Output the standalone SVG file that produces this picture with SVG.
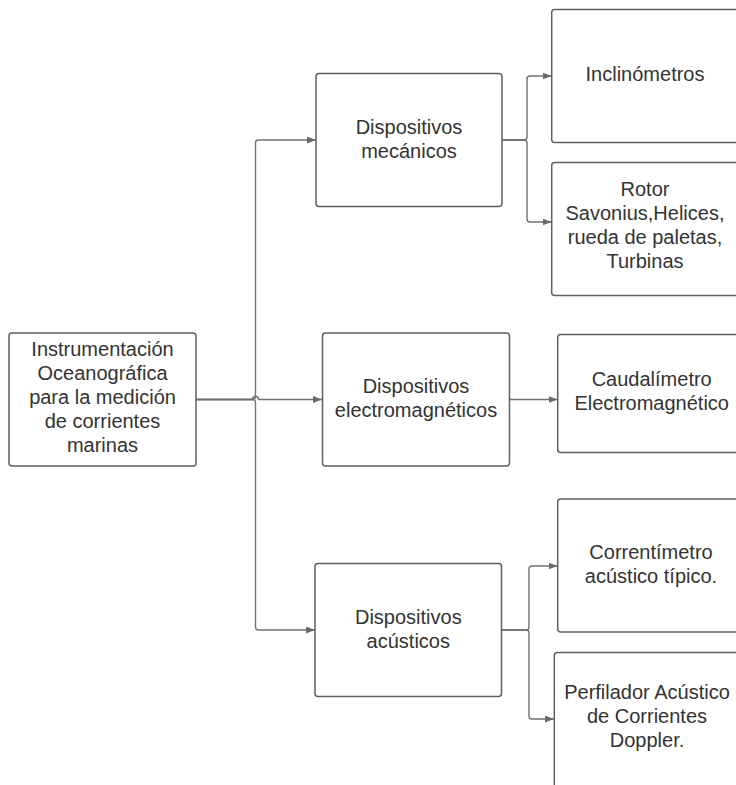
<svg xmlns="http://www.w3.org/2000/svg" width="736" height="785" viewBox="0 0 736 785">
<style>
.box{fill:#ffffff;stroke:#5f5f5f;stroke-width:1.5}
.lbl{font-family:"Liberation Sans",Arial,sans-serif;font-size:20px;fill:#333333;text-anchor:middle}
.con{fill:none;stroke:#707070;stroke-width:1.4}
</style>
<defs>
<marker id="arr" markerUnits="userSpaceOnUse" markerWidth="9" markerHeight="7" refX="9" refY="3.5" orient="auto">
<path d="M0,0 L9,3.5 L0,7 z" fill="#6a6a6a"/>
</marker>
</defs>
<rect width="736" height="785" fill="#ffffff"/>
<g id="connectors">
<path class="con" marker-end="url(#arr)" d="M196,399.5 H252.5 Q255.5,399.5 255.5,396.5 V143 Q255.5,140 258.5,140 H316"/>
<path class="con" marker-end="url(#arr)" d="M196,399.5 H252.5 A3,3 0 0 1 258.5,399.5 H322"/>
<path class="con" marker-end="url(#arr)" d="M196,399.5 H252.5 Q255.5,399.5 255.5,402.5 V627 Q255.5,630 258.5,630 H315"/>
<path class="con" marker-end="url(#arr)" d="M502,140 H524 Q527,140 527,137 V79 Q527,76 530,76 H551.5"/>
<path class="con" marker-end="url(#arr)" d="M502,140 H524 Q527,140 527,143 V219 Q527,222 530,222 H551.5"/>
<path class="con" marker-end="url(#arr)" d="M509.5,399.5 H557.5"/>
<path class="con" marker-end="url(#arr)" d="M501.5,630 H526 Q529,630 529,627 V569 Q529,566 532,566 H557.5"/>
<path class="con" marker-end="url(#arr)" d="M501.5,630 H526 Q529,630 529,633 V716 Q529,719 532,719 H554"/>
</g>
<g id="root">
<rect class="box" x="9" y="333" width="187" height="133" rx="3"/>
<text class="lbl" x="102.5" y="356">Instrumentación</text>
<text class="lbl" x="102.5" y="380">Oceanográfica</text>
<text class="lbl" x="102.5" y="404">para la medición</text>
<text class="lbl" x="102.5" y="428">de corrientes</text>
<text class="lbl" x="102.5" y="452">marinas</text>
</g>
<g id="mecanicos">
<rect class="box" x="316" y="73.5" width="186" height="133" rx="3"/>
<text class="lbl" x="409" y="134">Dispositivos</text>
<text class="lbl" x="409" y="158">mecánicos</text>
</g>
<g id="electromagneticos">
<rect class="box" x="322.5" y="333" width="187" height="133" rx="3"/>
<text class="lbl" x="416" y="393">Dispositivos</text>
<text class="lbl" x="416" y="417">electromagnéticos</text>
</g>
<g id="acusticos">
<rect class="box" x="315" y="563.5" width="186.5" height="133" rx="3"/>
<text class="lbl" x="408.3" y="623.5">Dispositivos</text>
<text class="lbl" x="408.3" y="647.5">acústicos</text>
</g>
<g id="inclinometros">
<rect class="box" x="551.7" y="9.5" width="187" height="133" rx="3"/>
<text class="lbl" x="645" y="81">Inclinómetros</text>
</g>
<g id="rotor">
<rect class="box" x="551.7" y="162.5" width="187" height="133" rx="3"/>
<text class="lbl" x="645" y="196">Rotor</text>
<text class="lbl" x="645" y="220">Savonius,Helices,</text>
<text class="lbl" x="645" y="244">rueda de paletas,</text>
<text class="lbl" x="645" y="268">Turbinas</text>
</g>
<g id="caudalimetro">
<rect class="box" x="557.7" y="334.5" width="188" height="118" rx="3"/>
<text class="lbl" x="651.7" y="386">Caudalímetro</text>
<text class="lbl" x="651.7" y="410">Electromagnético</text>
</g>
<g id="correntimetro">
<rect class="box" x="557.7" y="499" width="188" height="133" rx="3"/>
<text class="lbl" x="651" y="559">Correntímetro</text>
<text class="lbl" x="651" y="583">acústico típico.</text>
</g>
<g id="perfilador">
<rect class="box" x="554.3" y="652.5" width="186" height="150" rx="3"/>
<text class="lbl" x="647" y="699">Perfilador Acústico</text>
<text class="lbl" x="647" y="723">de Corrientes</text>
<text class="lbl" x="647" y="747">Doppler.</text>
</g>
</svg>
